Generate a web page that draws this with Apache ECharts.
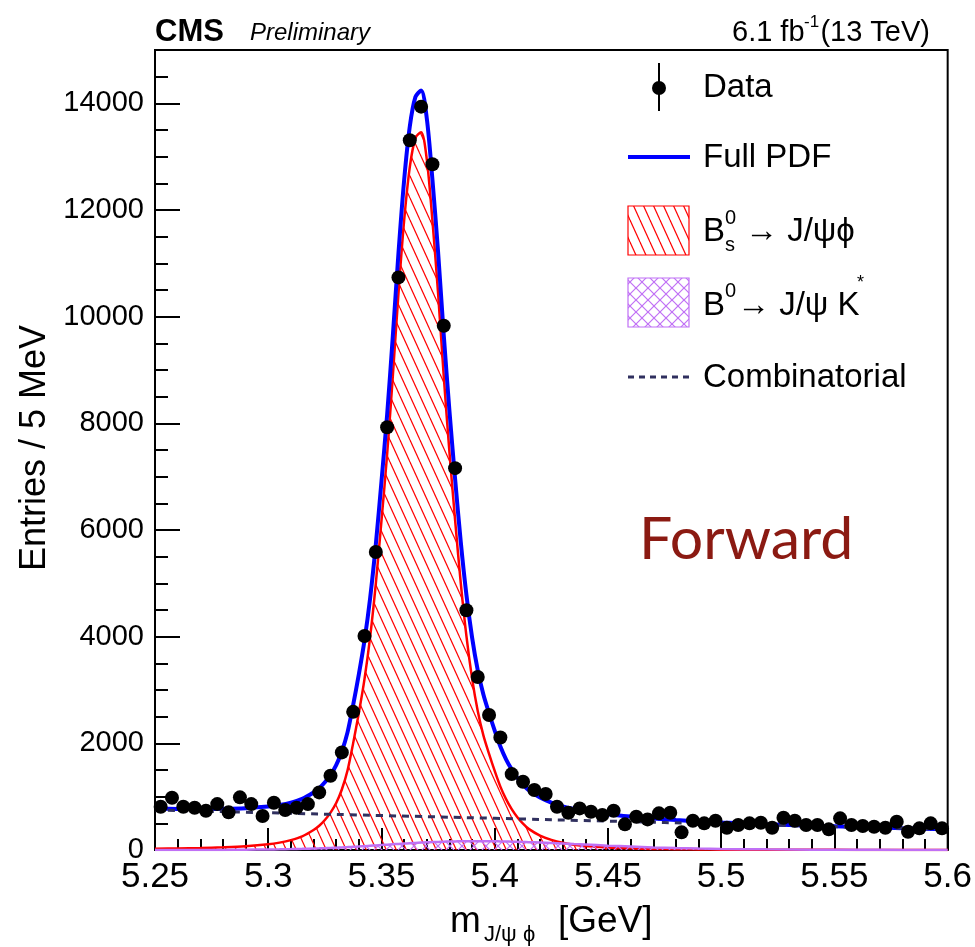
<!DOCTYPE html>
<html><head><meta charset="utf-8">
<script src="https://cdn.jsdelivr.net/npm/echarts@6/dist/echarts.min.js"></script>
<style>html,body{margin:0;padding:0;background:#fff}#c{width:975px;height:947px}</style>
</head><body><div id="c"></div>
<script>
// ---- data ----
const binCenters = [5.2525,5.2575,5.2625,5.2675,5.2725,5.2775,5.2825,5.2875,5.2925,5.2975,
5.3025,5.3075,5.3125,5.3175,5.3225,5.3275,5.3325,5.3375,5.3425,5.3475,
5.3525,5.3575,5.3625,5.3675,5.3725,5.3775,5.3825,5.3875,5.3925,5.3975,
5.4025,5.4075,5.4125,5.4175,5.4225,5.4275,5.4325,5.4375,5.4425,5.4475,
5.4525,5.4575,5.4625,5.4675,5.4725,5.4775,5.4825,5.4875,5.4925,5.4975,
5.5025,5.5075,5.5125,5.5175,5.5225,5.5275,5.5325,5.5375,5.5425,5.5475,
5.5525,5.5575,5.5625,5.5675,5.5725,5.5775,5.5825,5.5875,5.5925,5.5975];
const dataCounts = [811,980,811,792,736,861,706,987,861,637,
886,749,792,861,1080,1391,1830,2590,4013,5587,
7927,10736,13309,13938,12858,9831,7160,4494,3245,2530,
2110,1423,1279,1124,1049,811,699,780,718,655,
736,481,624,574,687,699,331,549,500,549,
418,468,500,511,418,605,549,468,468,387,
593,468,449,436,418,530,343,406,500,406];
const curveX = [5.25,5.26,5.27,5.28,5.29,5.30,5.305,5.31,5.315,5.32,
5.3225,5.325,5.3275,5.33,5.3325,5.335,5.3375,5.34,5.3425,5.345,
5.3475,5.35,5.3525,5.355,5.3575,5.36,5.3625,5.365,5.3675,5.37,
5.3725,5.375,5.3775,5.38,5.3825,5.385,5.3875,5.39,5.3925,5.395,
5.3975,5.40,5.4025,5.405,5.4075,5.41,5.4125,5.415,5.42,5.425,
5.43,5.435,5.44,5.45,5.46,5.47,5.48,5.49,5.50,5.52,
5.54,5.56,5.58,5.60];
const fullPdf = [775,770,768,772,785,814,844,889,959,1079,
1159,1269,1408,1591,1847,2205,2723,3292,3930,4726,
5728,6913,8163,9628,11190,12556,13564,14120,14240,13720,
12568,11208,9653,8239,6961,5780,4785,3987,3372,2914,
2564,2239,1940,1701,1511,1353,1226,1121,983,888,
819,769,730,670,626,590,561,537,516,484,
457,433,409,387];
const signalBs = [25,28,36,50,70,106,138,185,255,374,
454,562,700,880,1134,1490,2004,2570,3204,3996,
4994,6174,7420,8880,10438,11800,12804,13350,13460,12950,
11798,10436,8880,7466,6188,5008,4014,3218,2606,2150,
1804,1482,1188,954,768,616,494,396,270,190,
135,100,76,47,31,21,15,10,7,4,
3,2,1,1];
const peakingB0 = [0,0,1,2,5,10,13,17,22,28,
31,35,39,44,49,54,60,66,72,79,
86,93,100,107,114,121,127,133,139,144,
148,152,156,159,161,163,164,165,165,165,
164,163,161,159,157,154,151,147,140,131,
122,112,102,82,64,48,36,27,20,12,
7,4,2,1];
const combX = [5.25,5.30,5.35,5.40,5.45,5.50,5.55,5.60];
const combY = [750,698,646,594,541,489,437,385];

// ---- hatch patterns ----
function tile(w, h, color, lw, paths) {
  const c = document.createElement('canvas'); c.width = w; c.height = h;
  const g = c.getContext('2d'); g.strokeStyle = color; g.lineWidth = lw;
  paths.forEach(p => { g.beginPath(); g.moveTo(p[0], p[1]); g.lineTo(p[2], p[3]); g.stroke(); });
  return c;
}
const RW = 10, RH = 22;
const redTile = tile(RW, RH, '#ff0000', 1.2, [[-RW,0,0,RH],[0,0,RW,RH],[RW,0,2*RW,RH]]);
const PW = 12;
const purpleTile = tile(PW, PW, '#c070f5', 1.2, [[0,0,PW,PW],[-PW,0,0,PW],[PW,0,2*PW,PW],[PW,0,0,PW],[0,0,-PW,PW],[2*PW,0,PW,PW]]);
const redPattern = {image: redTile, repeat: 'repeat'};
const purplePattern = {image: purpleTile, repeat: 'repeat'};

const F = 'Liberation Sans, Arial, Helvetica, sans-serif';
const pair = (xs, ys) => xs.map((x, i) => [x, ys[i]]);

function txt(x, y, s, size, opts) {
  opts = opts || {};
  return {type: 'text', x: x, y: y, rotation: opts.rot || 0, z: 100,
    style: {text: s, fill: opts.fill || '#000', font: (opts.style || '') + ' ' + size + 'px ' + (opts.family || F),
      align: opts.align || 'left', verticalAlign: opts.va || 'middle',
      textAlign: opts.align || 'left', textVerticalAlign: opts.va || 'middle'}};
}

const chart = echarts.init(document.getElementById('c'), null, {renderer: 'canvas'});
chart.setOption({
  animation: false,
  backgroundColor: '#fff',
  grid: {left: 155, right: 27, top: 50, bottom: 97, show: true, borderColor: '#000', borderWidth: 2, backgroundColor: 'transparent'},
  xAxis: {type: 'value', min: 5.25, max: 5.6, interval: 0.05,
    axisLine: {show: true, onZero: false, lineStyle: {color: '#000', width: 2}},
    axisTick: {show: true, inside: true, length: 22, lineStyle: {color: '#000', width: 2}},
    minorTick: {show: true, splitNumber: 5, length: 11, lineStyle: {color: '#000', width: 2}},
    splitLine: {show: false},
    axisLabel: {color: '#000', fontSize: 35, fontFamily: F, margin: 10, formatter: v => String(+v.toFixed(2))}},
  yAxis: {type: 'value', min: 0, max: 15000, interval: 2000,
    axisLine: {show: true, lineStyle: {color: '#000', width: 2}},
    axisTick: {show: true, inside: true, length: 25, lineStyle: {color: '#000', width: 2}},
    minorTick: {show: true, splitNumber: 4, length: 13, lineStyle: {color: '#000', width: 2}},
    splitLine: {show: false},
    axisLabel: {color: '#000', fontSize: 29, fontFamily: F, margin: 11, showMaxLabel: false, formatter: v => String(Math.round(v))}},
  series: [
    {name: 'Bs', type: 'line', data: pair(curveX, signalBs), smooth: 0.3, showSymbol: false, z: 2,
      lineStyle: {color: '#ff0000', width: 2.5}, areaStyle: {color: redPattern, opacity: 1}},
    {name: 'B0', type: 'line', data: pair(curveX, peakingB0), smooth: 0.3, showSymbol: false, z: 3,
      lineStyle: {color: '#c070f5', width: 2.5}, areaStyle: {color: purplePattern, opacity: 1}},
    {name: 'Full PDF', type: 'line', data: pair(curveX, fullPdf), smooth: 0.3, showSymbol: false, z: 4,
      lineStyle: {color: '#0000ff', width: 4}},
    {name: 'Combinatorial', type: 'line', data: pair(combX, combY), smooth: true, showSymbol: false, z: 5,
      lineStyle: {color: '#30305f', width: 3, type: [7, 6]}},
    {name: 'Data', type: 'scatter', data: pair(binCenters, dataCounts), symbol: 'circle', symbolSize: 14, z: 6,
      itemStyle: {color: '#000', opacity: 1}}
  ],
  graphic: [
    txt(155, 32, 'CMS', 31, {style: 'bold'}),
    txt(250, 33, 'Preliminary', 24, {style: 'italic'}),
    txt(930, 33, '(13 TeV)', 29, {align: 'right'}),
    txt(804, 22, '-1', 17),
    txt(732, 33, '6.1 fb', 29),
    // legend
    {type: 'line', z: 100, shape: {x1: 659, y1: 63, x2: 659, y2: 111}, style: {stroke: '#000', lineWidth: 2}},
    {type: 'circle', z: 100, shape: {cx: 659, cy: 88, r: 7}, style: {fill: '#000'}},
    txt(703, 88, 'Data', 33),
    {type: 'line', z: 100, shape: {x1: 628, y1: 157, x2: 690, y2: 157}, style: {stroke: '#0000ff', lineWidth: 4}},
    txt(703, 158, 'Full PDF', 33),
    {type: 'rect', z: 100, shape: {x: 628, y: 206, width: 61, height: 49}, style: {fill: redPattern, stroke: '#ff0000', lineWidth: 1.2}},
    txt(703, 232, 'B', 33),
    txt(725, 218, '0', 20),
    txt(725, 245, 's', 20),
    txt(745, 232, '\u2192 J/\u03c8\u03d5', 33),
    {type: 'rect', z: 100, shape: {x: 628, y: 278, width: 61, height: 49}, style: {fill: purplePattern, stroke: '#c070f5', lineWidth: 1.2}},
    txt(703, 306, 'B', 33),
    txt(725, 291, '0', 20),
    txt(737, 306, '\u2192 J/\u03c8 K', 33),
    txt(857, 283, '*', 18),
    {type: 'line', z: 100, shape: {x1: 628, y1: 377, x2: 690, y2: 377}, style: {stroke: '#30305f', lineWidth: 3, lineDash: [6, 5]}},
    txt(703, 378, 'Combinatorial', 33),
    // Forward
    txt(639, 540, 'Forward', 59, {family: 'Lato, Open Sans, sans-serif', fill: '#8b1a12'}),
    // axis titles
    txt(450, 922, 'm', 37),
    txt(484, 935, 'J/\u03c8 \u03d5', 22),
    txt(558, 922, '[GeV]', 37),
    txt(35, 448, 'Entries / 5 MeV', 36, {rot: Math.PI / 2, align: 'center'})
  ]
});
</script></body></html>
